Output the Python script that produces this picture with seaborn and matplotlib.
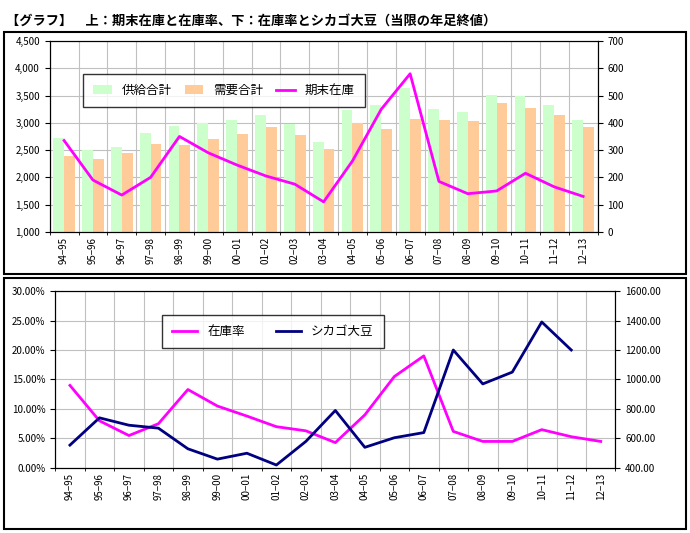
import matplotlib
matplotlib.use("Agg")
import matplotlib.pyplot as plt
import matplotlib.ticker as mticker
from matplotlib.patches import Rectangle
import seaborn as sns
import numpy as np
import pandas as pd

plt.rcParams["font.family"] = ["Noto Sans CJK JP", "DejaVu Sans"]

seasons = ["94-95", "95-96", "96-97", "97-98", "98-99", "99-00", "00-01", "01-02", "02-03",
           "03-04", "04-05", "05-06", "06-07", "07-08", "08-09", "09-10", "10-11", "11-12", "12-13"]
labels = [s.replace("-", "\u2212") for s in seasons]
supply = [2730, 2510, 2560, 2820, 2950, 3000, 3060, 3150, 2970, 2640, 3240, 3330, 3640, 3260, 3190, 3510, 3490, 3330, 3060]
demand = [2400, 2330, 2440, 2620, 2600, 2710, 2800, 2930, 2780, 2520, 2990, 2880, 3070, 3060, 3040, 3370, 3280, 3150, 2930]
ending_stock = [335, 190, 135, 200, 350, 290, 245, 205, 175, 110, 260, 450, 580, 185, 140, 150, 215, 165, 130]
stock_ratio = [14.0, 8.0, 5.5, 7.5, 13.3, 10.5, 8.8, 7.0, 6.3, 4.3, 9.0, 15.5, 19.0, 6.2, 4.5, 4.5, 6.5, 5.3, 4.5]
chicago = [555, 740, 690, 670, 530, 460, 500, 420, 580, 790, 540, 605, 640, 1200, 970, 1050, 1390, 1200]

fig = plt.figure(figsize=(6.9, 5.33), dpi=100)
fig.text(0.008, 0.975, "【グラフ】　上：期末在庫と在庫率、下：在庫率とシカゴ大豆（当限の年足終値）",
         fontsize=9.5, fontweight="bold", va="top")
for y0, h in [(0.485, 0.455), (0.008, 0.47)]:
    fig.add_artist(Rectangle((0.006, y0), 0.988, h, transform=fig.transFigure,
                             fill=False, lw=1.5, ec="black"))

pos = np.arange(len(seasons))
boundaries = np.arange(len(seasons) + 1) - 0.5

# top chart
ax = fig.add_axes([0.072, 0.565, 0.794, 0.358])
df = pd.DataFrame({"season": seasons * 2, "value": supply + demand,
                   "kind": ["供給合計"] * len(seasons) + ["需要合計"] * len(seasons)})
sns.barplot(data=df, x="season", y="value", hue="kind", ax=ax,
            palette=["#ccffcc", "#ffcc99"], width=0.75, saturation=1, zorder=2)
ax.set_ylim(1000, 4500)
ax.yaxis.set_major_locator(mticker.MultipleLocator(500))
ax.yaxis.set_major_formatter(mticker.StrMethodFormatter("{x:,.0f}"))
ax.set_xlim(-0.5, len(seasons) - 0.5)
ax.set_xticks(pos)
ax.set_xticklabels(labels, rotation=90, fontsize=7)
ax.set_xticks(boundaries, minor=True)
ax.grid(True, which="minor", axis="x", color="#c0c0c0", lw=0.8, zorder=0)
ax.grid(True, which="major", axis="y", color="#c0c0c0", lw=0.8, zorder=0)
ax.tick_params(axis="x", which="major", length=0)
ax.tick_params(axis="y", labelsize=7)
ax.set_xlabel("")
ax.set_ylabel("")
ax.set_axisbelow(True)
ax2 = ax.twinx()
sns.lineplot(x=pos, y=ending_stock, ax=ax2, color="#ff00ff", lw=2, label="期末在庫")
ax2.set_ylim(0, 700)
ax2.yaxis.set_major_locator(mticker.MultipleLocator(100))
ax2.tick_params(axis="y", labelsize=7)
h1, l1 = ax.get_legend_handles_labels()
h2, l2 = ax2.get_legend_handles_labels()
ax.get_legend().remove()
ax2.legend(h1 + h2, l1 + l2, ncol=3, loc="upper left", bbox_to_anchor=(0.05, 0.86),
           fontsize=9, frameon=True, fancybox=False, edgecolor="black",
           handlelength=1.5, columnspacing=1.0, borderpad=0.8)

# bottom chart
bx = fig.add_axes([0.080, 0.122, 0.812, 0.332])
sns.lineplot(x=pos, y=np.array(stock_ratio) / 100, ax=bx, color="#ff00ff", lw=2, label="在庫率")
bx.set_ylim(0, 0.30)
bx.yaxis.set_major_locator(mticker.MultipleLocator(0.05))
bx.yaxis.set_major_formatter(mticker.PercentFormatter(1.0, decimals=2))
bx.set_xlim(-0.5, len(seasons) - 0.5)
bx.set_xticks(pos)
bx.set_xticklabels(labels, rotation=90, fontsize=7)
bx.set_xticks(boundaries, minor=True)
bx.grid(True, which="minor", axis="x", color="#c0c0c0", lw=0.8)
bx.grid(True, which="major", axis="y", color="#c0c0c0", lw=0.8)
bx.tick_params(axis="x", which="major", length=0)
bx.tick_params(axis="y", labelsize=7)
bx2 = bx.twinx()
sns.lineplot(x=pos[:len(chicago)], y=chicago, ax=bx2, color="#000080", lw=2, label="シカゴ大豆")
bx2.set_ylim(400, 1600)
bx2.yaxis.set_major_locator(mticker.MultipleLocator(200))
bx2.yaxis.set_major_formatter(mticker.StrMethodFormatter("{x:.2f}"))
bx2.tick_params(axis="y", labelsize=7)
g1, k1 = bx.get_legend_handles_labels()
g2, k2 = bx2.get_legend_handles_labels()
bx.get_legend().remove()
bx2.legend(g1 + g2, k1 + k2, ncol=2, loc="upper left", bbox_to_anchor=(0.18, 0.9),
           fontsize=9, frameon=True, fancybox=False, edgecolor="black",
           handlelength=2, columnspacing=2.5, borderpad=0.8)

fig.savefig("out.png", dpi=100)
